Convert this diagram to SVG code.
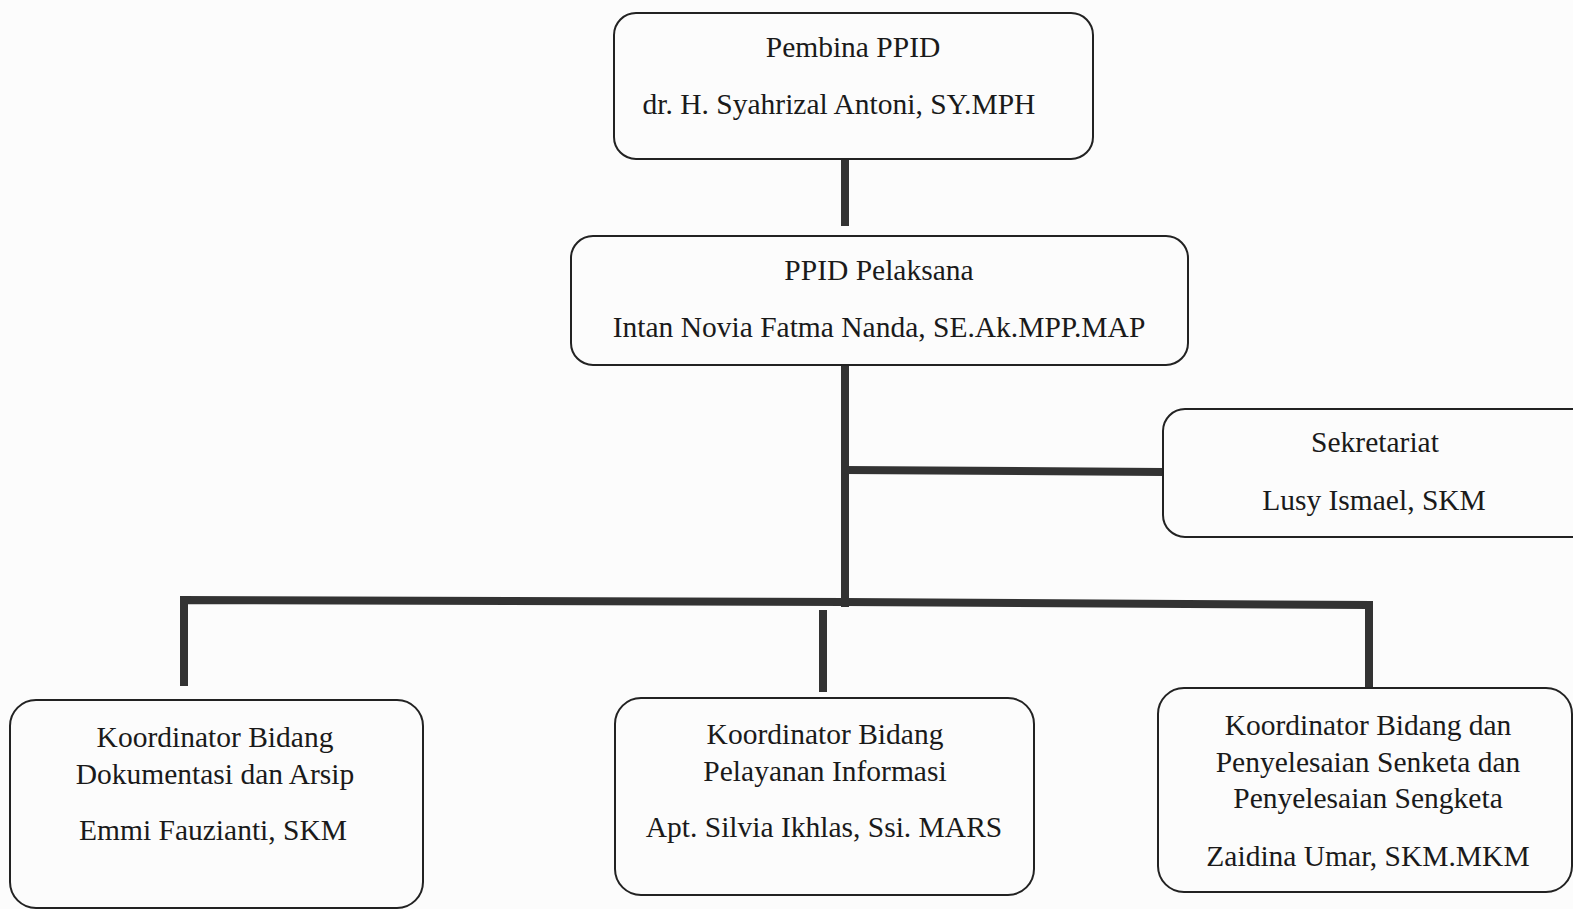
<svg xmlns="http://www.w3.org/2000/svg" width="1573" height="909" viewBox="0 0 1573 909">
<style>
.box{fill:none;stroke:#222;stroke-width:2}
.t{font-family:"Liberation Serif","Times New Roman",serif;font-size:29.5px;fill:#1a1a1a;text-anchor:middle}
.ln{stroke:#333;stroke-width:8;fill:none;stroke-linecap:butt}
</style>
<rect width="1573" height="909" fill="#fcfcfc"/>
<g id="connectors">
<line class="ln" x1="845" y1="158" x2="845" y2="226"/>
<line class="ln" x1="845" y1="366" x2="845" y2="607"/>
<line class="ln" x1="845" y1="470" x2="1163" y2="472"/>
<path class="ln" d="M184 686 V600 L845 602 L1369 605 V688"/>
<line class="ln" x1="823" y1="610" x2="823" y2="692"/>
</g>
<g id="pembina">
<rect class="box" x="614" y="13" width="479" height="146" rx="22"/>
<text class="t" x="853" y="57">Pembina PPID</text>
<text class="t" x="839" y="114">dr. H. Syahrizal Antoni, SY.MPH</text>
</g>
<g id="pelaksana">
<rect class="box" x="571" y="236" width="617" height="129" rx="22"/>
<text class="t" x="879" y="280">PPID Pelaksana</text>
<text class="t" x="879" y="337">Intan Novia Fatma Nanda, SE.Ak.MPP.MAP</text>
</g>
<g id="sekretariat">
<rect class="box" x="1163" y="409" width="430" height="128" rx="22"/>
<text class="t" x="1375" y="452">Sekretariat</text>
<text class="t" x="1374" y="510">Lusy Ismael, SKM</text>
</g>
<g id="dokumentasi">
<rect class="box" x="10" y="700" width="413" height="208" rx="26"/>
<text class="t" x="215" y="747">Koordinator Bidang</text>
<text class="t" x="215" y="784">Dokumentasi dan Arsip</text>
<text class="t" x="213" y="840">Emmi Fauzianti, SKM</text>
</g>
<g id="pelayanan">
<rect class="box" x="615" y="698" width="419" height="197" rx="26"/>
<text class="t" x="825" y="744">Koordinator Bidang</text>
<text class="t" x="825" y="781">Pelayanan Informasi</text>
<text class="t" x="824" y="837">Apt. Silvia Ikhlas, Ssi. MARS</text>
</g>
<g id="sengketa">
<rect class="box" x="1158" y="688" width="414" height="204" rx="26"/>
<text class="t" x="1368" y="735">Koordinator Bidang dan</text>
<text class="t" x="1368" y="772">Penyelesaian Senketa dan</text>
<text class="t" x="1368" y="808">Penyelesaian Sengketa</text>
<text class="t" x="1368" y="866">Zaidina Umar, SKM.MKM</text>
</g>
</svg>
